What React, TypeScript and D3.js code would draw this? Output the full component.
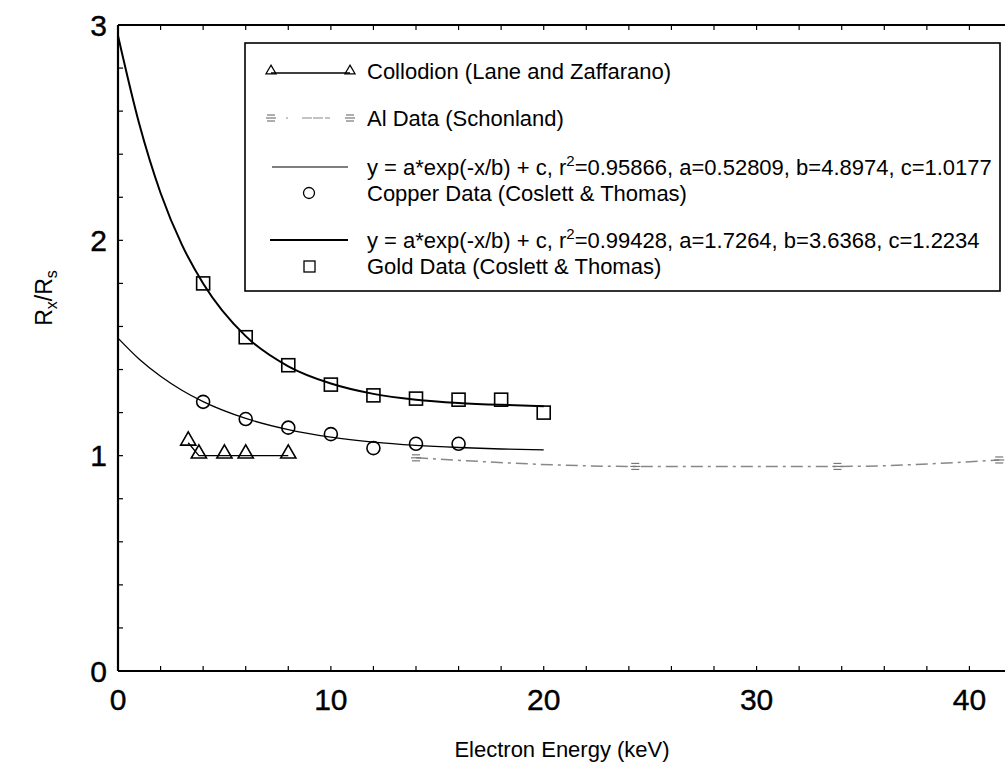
import React, { useRef, useEffect } from "react";
import * as d3 from "d3";

// data
const goldX = [4, 6, 8, 10, 12, 14, 16, 18, 20];
const goldY = [1.8, 1.55, 1.42, 1.33, 1.28, 1.265, 1.26, 1.26, 1.2];
const copperX = [4, 6, 8, 10, 12, 14, 16];
const copperY = [1.25, 1.17, 1.13, 1.1, 1.035, 1.055, 1.055];
const collodionX = [3.3, 3.8, 5, 6, 8];
const collodionY = [1.06, 1.0, 1.0, 1.0, 1.0];
const alX = [14, 24.3, 33.8, 41.4];
const alY = [0.99, 0.95, 0.95, 0.98];

// fitted curves, sampled from the drawn lines
const fitX = [0, 1, 2, 3, 4, 6, 8, 10, 12, 14, 16, 18, 20];
const goldFitY = [2.95, 2.54, 2.22, 1.98, 1.8, 1.555, 1.415, 1.335, 1.287, 1.26, 1.245, 1.236, 1.23];
const copperFitY = [1.546, 1.448, 1.369, 1.304, 1.251, 1.173, 1.121, 1.086, 1.063, 1.048, 1.038, 1.031, 1.027];

const xTickLabels = [0, 10, 20, 30, 40];
const yTickLabels = [0, 1, 2, 3];

const legendItems = [
  "Collodion (Lane and Zaffarano)",
  "Al Data (Schonland)",
  "Copper Data (Coslett & Thomas)",
  "Gold Data (Coslett & Thomas)",
];
const copperFitLabel = ["y = a*exp(-x/b) + c, r", "2", "=0.95866, a=0.52809, b=4.8974, c=1.0177"];
const goldFitLabel = ["y = a*exp(-x/b) + c, r", "2", "=0.99428, a=1.7264, b=3.6368, c=1.2234"];

const FONT = "'Liberation Sans', Arial, sans-serif";

function zip(xs: number[], ys: number[]) {
  return xs.map((x, i) => ({ x, y: ys[i] }));
}

function Chart() {
  const svgRef = useRef<SVGSVGElement>(null);

  useEffect(() => {
    const svg = d3.select(svgRef.current);
    svg.selectAll("*").remove();

    const left = 118, right = 1012, top = 25, bottom = 671;
    const x = d3.scaleLinear().domain([0, 42]).range([left, right]);
    const y = d3.scaleLinear().domain([0, 3]).range([bottom, top]);

    const g = svg.append("g");

    // frame
    g.append("line").attr("x1", left).attr("x2", left).attr("y1", top).attr("y2", bottom)
      .attr("stroke", "#000").attr("stroke-width", 2.2);
    g.append("line").attr("x1", left).attr("x2", 1010).attr("y1", bottom).attr("y2", bottom)
      .attr("stroke", "#000").attr("stroke-width", 2);
    g.append("line").attr("x1", left).attr("x2", 1010).attr("y1", top).attr("y2", top)
      .attr("stroke", "#000").attr("stroke-width", 2);

    // ticks (inward)
    const xt = d3.range(0, 43, 2);
    g.selectAll(".xtb").data(xt).join("line")
      .attr("x1", d => x(d)).attr("x2", d => x(d)).attr("y1", bottom).attr("y2", bottom - 5)
      .attr("stroke", "#000").attr("stroke-width", 1.2);
    g.selectAll(".xtt").data(xt).join("line")
      .attr("x1", d => x(d)).attr("x2", d => x(d)).attr("y1", top).attr("y2", top + 5)
      .attr("stroke", "#000").attr("stroke-width", 1.2);
    const yt = d3.range(0, 3.01, 0.2);
    g.selectAll(".yt").data(yt).join("line")
      .attr("x1", left).attr("x2", left + 5).attr("y1", d => y(d)).attr("y2", d => y(d))
      .attr("stroke", "#000").attr("stroke-width", 1.2);

    g.selectAll(".xl").data(xTickLabels).join("text")
      .attr("x", d => x(d)).attr("y", 710)
      .attr("text-anchor", "middle").attr("font-family", FONT).attr("font-size", 30)
      .attr("stroke", "#000").attr("stroke-width", 0.4)
      .text(d => d);
    g.selectAll(".yl").data(yTickLabels).join("text")
      .attr("x", 107).attr("y", d => y(d)).attr("dy", "0.36em")
      .attr("text-anchor", "end").attr("font-family", FONT).attr("font-size", 30)
      .attr("stroke", "#000").attr("stroke-width", 0.4)
      .text(d => d);

    // axis titles
    g.append("text").attr("x", 562).attr("y", 757).attr("text-anchor", "middle")
      .attr("font-family", FONT).attr("font-size", 22).text("Electron Energy (keV)");
    const yTitle = g.append("text").attr("transform", "translate(52,298) rotate(-90)")
      .attr("text-anchor", "middle").attr("font-family", FONT).attr("font-size", 23);
    yTitle.append("tspan").text("R");
    yTitle.append("tspan").attr("font-size", 16).attr("dy", 5).text("x");
    yTitle.append("tspan").attr("dy", -5).text("/R");
    yTitle.append("tspan").attr("font-size", 16).attr("dy", 5).text("s");

    const curve = d3.line<{ x: number; y: number }>()
      .x(d => x(d.x)).y(d => y(d.y)).curve(d3.curveMonotoneX);
    const straight = d3.line<{ x: number; y: number }>()
      .x(d => x(d.x)).y(d => y(d.y));

    // legend box
    const lg = g.append("g");
    lg.append("rect").attr("x", 245).attr("y", 43).attr("width", 755).attr("height", 248)
      .attr("fill", "#fff").attr("stroke", "#000").attr("stroke-width", 1.6);

    // fit curves
    g.append("path").attr("d", curve(zip(fitX, goldFitY))).attr("fill", "none")
      .attr("stroke", "#000").attr("stroke-width", 2);
    g.append("path").attr("d", curve(zip(fitX, copperFitY))).attr("fill", "none")
      .attr("stroke", "#000").attr("stroke-width", 1.3);

    // Al data
    const alMarker = (sel: d3.Selection<SVGGElement, unknown, null, undefined>) => {
      sel.append("line").attr("x1", -4).attr("x2", 4).attr("y1", -3).attr("y2", -3);
      sel.append("line").attr("x1", -5).attr("x2", 5).attr("y1", 0).attr("y2", 0);
      sel.append("line").attr("x1", -4).attr("x2", 4).attr("y1", 3).attr("y2", 3);
      sel.attr("stroke", "#777").attr("stroke-width", 1.2);
    };
    g.append("path").attr("d", curve(zip(alX, alY))).attr("fill", "none")
      .attr("stroke", "#888").attr("stroke-width", 1.5).attr("stroke-dasharray", "12,5,3,5");
    zip(alX, alY).forEach(d => {
      alMarker(g.append("g").attr("transform", `translate(${x(d.x)},${y(d.y)})`));
    });

    // collodion
    g.append("path").attr("d", straight(zip(collodionX, collodionY))).attr("fill", "none")
      .attr("stroke", "#000").attr("stroke-width", 1.3);
    const tri = d3.symbol().type(d3.symbolTriangle).size(100);
    g.selectAll(".tri").data(zip(collodionX, collodionY)).join("path")
      .attr("d", tri).attr("transform", d => `translate(${x(d.x)},${y(d.y) - 2})`)
      .attr("fill", "none").attr("stroke", "#000").attr("stroke-width", 1.6);

    // copper circles
    g.selectAll(".cu").data(zip(copperX, copperY)).join("circle")
      .attr("cx", d => x(d.x)).attr("cy", d => y(d.y)).attr("r", 6.5)
      .attr("fill", "none").attr("stroke", "#000").attr("stroke-width", 1.6);

    // gold squares
    g.selectAll(".au").data(zip(goldX, goldY)).join("rect")
      .attr("x", d => x(d.x) - 6.5).attr("y", d => y(d.y) - 6.5).attr("width", 13).attr("height", 13)
      .attr("fill", "none").attr("stroke", "#000").attr("stroke-width", 1.6);

    // legend contents
    const tx = 367;
    const addText = (yy: number, s: string) =>
      lg.append("text").attr("x", tx).attr("y", yy).attr("dy", "0.36em")
        .attr("font-family", FONT).attr("font-size", 22).text(s);
    const addFit = (yy: number, parts: string[]) => {
      const t = lg.append("text").attr("x", tx).attr("y", yy).attr("dy", "0.36em")
        .attr("font-family", FONT).attr("font-size", 22);
      t.append("tspan").text(parts[0]);
      t.append("tspan").attr("font-size", 15).attr("dy", -9).text(parts[1]);
      t.append("tspan").attr("dy", 9).text(parts[2]);
    };

    // collodion row
    lg.append("line").attr("x1", 271).attr("x2", 350).attr("y1", 73).attr("y2", 73)
      .attr("stroke", "#000").attr("stroke-width", 1.3);
    const triS = d3.symbol().type(d3.symbolTriangle).size(45);
    [271, 350].forEach(px => {
      lg.append("path").attr("d", triS).attr("transform", `translate(${px},71)`)
        .attr("fill", "none").attr("stroke", "#000").attr("stroke-width", 1.2);
    });
    addText(71, legendItems[0]);

    // Al row
    lg.append("line").attr("x1", 286).attr("x2", 330).attr("y1", 118).attr("y2", 118)
      .attr("stroke", "#888").attr("stroke-width", 1.2).attr("stroke-dasharray", "2,14,10,1,10");
    [271, 350].forEach(px => alMarker(lg.append("g").attr("transform", `translate(${px},118)`)));
    addText(118, legendItems[1]);

    // copper fit + data
    lg.append("line").attr("x1", 272).attr("x2", 348).attr("y1", 167).attr("y2", 167)
      .attr("stroke", "#000").attr("stroke-width", 1.2);
    addFit(167, copperFitLabel);
    lg.append("circle").attr("cx", 309).attr("cy", 193).attr("r", 5.5)
      .attr("fill", "none").attr("stroke", "#000").attr("stroke-width", 1.3);
    addText(193, legendItems[2]);

    // gold fit + data
    lg.append("line").attr("x1", 270).attr("x2", 348).attr("y1", 240).attr("y2", 240)
      .attr("stroke", "#000").attr("stroke-width", 2);
    addFit(240, goldFitLabel);
    lg.append("rect").attr("x", 304).attr("y", 261).attr("width", 11).attr("height", 11)
      .attr("fill", "none").attr("stroke", "#000").attr("stroke-width", 1.3);
    addText(266, legendItems[3]);
  }, []);

  return (
    <svg ref={svgRef} width={1005} height={782}
      style={{ position: "absolute", left: 0, top: 0, background: "#fff", display: "block" }} />
  );
}

export default function App() {
  return <Chart />;
}
